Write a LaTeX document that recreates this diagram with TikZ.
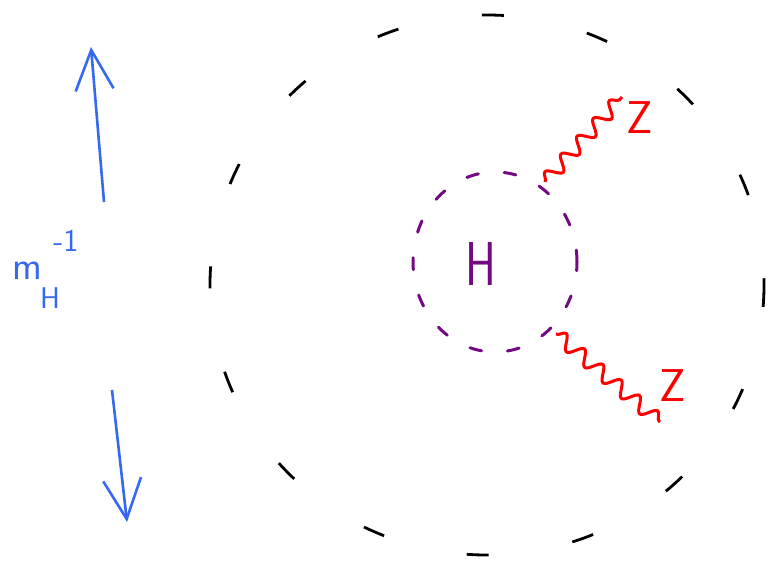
\documentclass[tikz,border=0pt]{standalone}
\usetikzlibrary{arrows.meta,decorations.pathmorphing,shapes.geometric}
\definecolor{penblue}{RGB}{55,105,240}
\definecolor{penviolet}{RGB}{115,10,130}
\begin{document}
\begin{tikzpicture}[x=1pt,y=-1pt,
  bigdash/.style={black,line width=2.8pt,dash pattern=on 22pt off 85pt},
  hdash/.style={penviolet,line width=3pt,dash pattern=on 12pt off 26pt,line cap=round},
  boson/.style={red,line width=3pt,decorate,decoration={snake,segment length=24pt,amplitude=7pt}},
  blue arrow/.style={penblue,line width=2.6pt,-{Straight Barb[length=40pt,width=38pt,line width=2.6pt]}},
  lab/.style={inner sep=0pt,font=\sffamily}]
\useasboundingbox (0,0) rectangle (770,565);
% outer dashed circle
\draw[bigdash] (487,285) ellipse [x radius=277, y radius=270];
% Higgs blob
\node (hc) at (495,262) [draw,hdash,ellipse,minimum width=164pt,minimum height=180pt] {};
\node[lab,penviolet,font=\fontsize{62}{62}\sffamily,xscale=0.75] (H) at (481,264) {H};
% Z bosons
\coordinate (z1s) at (545,182);
\coordinate (z1e) at (622,97);
\coordinate (z2s) at (556,334);
\coordinate (z2e) at (660,422);
\draw[boson] (z1s) -- (z1e);
\draw[boson] (z2s) -- (z2e);
\node[lab,red,font=\fontsize{46}{46}\sffamily] (Z1) at (640,118) {Z};
\node[lab,red,font=\fontsize{46}{46}\sffamily] (Z2) at (673,386) {Z};
% scale arrows
\coordinate (a1s) at (104,202);
\coordinate (a1e) at (91,47);
\coordinate (a2s) at (112,390);
\coordinate (a2e) at (127,522);
\draw[blue arrow] (a1s) -- (a1e);
\draw[blue arrow] (a2s) -- (a2e);
\node[lab,penblue,font=\fontsize{40}{40}\sffamily] (m) at (27,271) {m};
\node[lab,penblue,font=\fontsize{30}{30}\sffamily] (sub) at (50,298) {H};
\node[lab,penblue,font=\fontsize{32}{32}\sffamily] (sup) at (66,241) {-1};
\end{tikzpicture}
\end{document}
